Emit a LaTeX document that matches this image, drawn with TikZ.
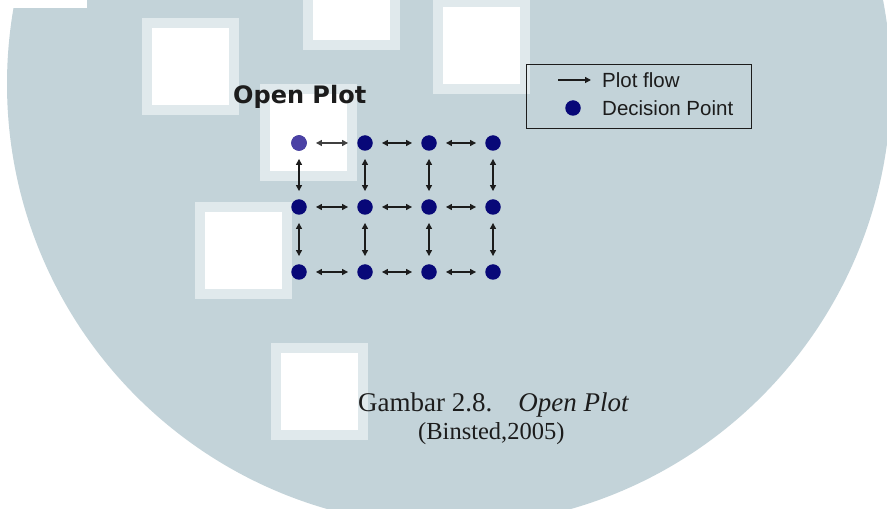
\documentclass[tikz,border=0pt]{standalone}
\usepackage{fontspec}
\setmainfont{Liberation Serif}
\newfontfamily\legendfont{Liberation Sans}
\newfontfamily\titlefont{DejaVu Sans}
\usetikzlibrary{arrows.meta}

\definecolor{bgc}{RGB}{195,211,217}
\definecolor{sqedge}{RGB}{224,233,236}
\definecolor{navy}{RGB}{8,8,120}
\definecolor{firstdot}{RGB}{75,65,165}
\definecolor{ink}{RGB}{28,28,28}
\definecolor{inklight}{RGB}{64,64,64}

\newcommand\wmsquare[2]{%
  \fill[sqedge] (#1,#2) rectangle ++(97,97);
  \fill[white] (#1+10,#2+10) rectangle ++(77,77);}

\begin{document}
\begin{tikzpicture}[x=1pt,y=-1pt,
  dot/.style={circle,fill=navy,inner sep=0pt,minimum size=15.5pt},
  flow/.style={{Triangle[length=6pt,width=6pt]}-{Triangle[length=6pt,width=6pt]},line width=1.3pt,draw=ink},
  hflow/.style={flow,shorten <=9pt,shorten >=9pt},
  vflow/.style={flow,shorten <=8pt,shorten >=8pt},
  legtext/.style={anchor=west,inner sep=0pt,text=ink,font=\legendfont\fontsize{20.5}{24}\selectfont}]
\useasboundingbox (0,0) rectangle (887,521);
\fill[white] (0,0) rectangle (887,521);
% watermark background
\begin{scope}
  \clip (0,0) rectangle (887,508);
  \fill[bgc] (449,84) circle[radius=442];
  \fill[white] (0,0) rectangle (87,8);
  \wmsquare{142}{18}
  \wmsquare{303}{-47}
  \wmsquare{433}{-3}
  \wmsquare{260}{84}
  \wmsquare{195}{202}
  \wmsquare{271}{343}
\end{scope}

% title
\node[anchor=base west,inner sep=0pt,text=ink,font=\titlefont\bfseries\fontsize{24}{28}\selectfont] (title) at (233,104) {Open Plot};

% decision points
\foreach \c/\x in {1/299,2/365,3/429,4/493}{
  \foreach \r/\y in {1/143,2/207,3/272}{
    \node[dot] (d\r\c) at (\x,\y) {};
  }
}
\node[dot,fill=firstdot] at (d11) {};

% horizontal flows
\draw[hflow,draw=inklight] (d11) -- (d12);
\foreach \a/\b in {2/3,3/4}{\draw[hflow] (d1\a) -- (d1\b);}
\foreach \r in {2,3}{
  \foreach \a/\b in {1/2,2/3,3/4}{\draw[hflow] (d\r\a) -- (d\r\b);}
}
% vertical flows
\foreach \c in {1,2,3,4}{
  \draw[vflow] (d1\c) -- (d2\c);
  \draw[vflow] (d2\c) -- (d3\c);
}

% legend
\node[draw=ink,line width=1.2pt,anchor=north west,minimum width=225pt,minimum height=64pt,inner sep=0pt] (legend) at (526,64) {};
\coordinate (la) at (558,80);
\coordinate (lb) at (591,80);
\draw[-{Triangle[length=6pt,width=6pt]},line width=1.3pt,draw=ink] (la) -- (lb);
\node[legtext] (lflow) at (602,80) {Plot flow};
\node[dot] (ldot) at (573,108) {};
\node[legtext] (ldec) at (602,108) {Decision Point};

% caption
\node[anchor=base west,inner sep=0pt,text=ink,font=\fontsize{27}{32}\selectfont] (cap1) at (358,412) {Gambar 2.8.\hspace*{26pt}\textit{Open Plot}};
\node[anchor=base west,inner sep=0pt,text=ink,font=\fontsize{24.5}{29}\selectfont] (cap2) at (418,440) {(Binsted,2005)};
\end{tikzpicture}
\end{document}
